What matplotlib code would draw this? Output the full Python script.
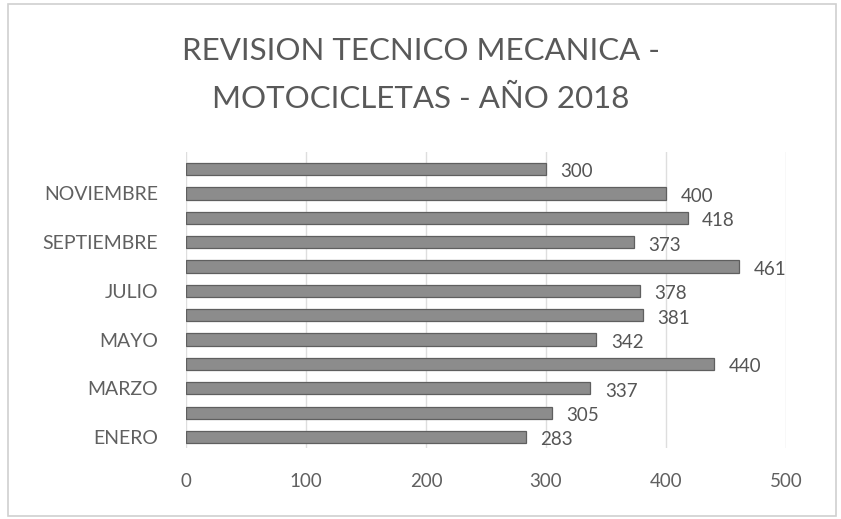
import matplotlib
matplotlib.use("Agg")
import matplotlib.pyplot as plt
from matplotlib.patches import Rectangle

plt.rcParams['font.family'] = ['Lato', 'DejaVu Sans']

months = ["ENERO", "FEBRERO", "MARZO", "ABRIL", "MAYO", "JUNIO",
          "JULIO", "AGOSTO", "SEPTIEMBRE", "OCTUBRE", "NOVIEMBRE", "DICIEMBRE"]
values = [283, 305, 337, 440, 342, 381, 378, 461, 373, 418, 400, 300]
x_ticks = [0, 100, 200, 300, 400, 500]
title_lines = ["REVISION TECNICO MECANICA -", "MOTOCICLETAS - AÑO 2018"]

W, H = 841, 519
fig = plt.figure(figsize=(W / 100, H / 100), dpi=100)
fig.patch.set_facecolor("white")

# light chart-area border
fig.patches.append(Rectangle((8 / W, 1 - 516 / H), (836 - 8) / W, (516 - 4) / H,
                             transform=fig.transFigure, fill=False,
                             edgecolor="#d0d0d0", linewidth=1.2))

left, right, top, bottom = 186, 786, 152, 448
ax = fig.add_axes([left / W, 1 - bottom / H, (right - left) / W, (bottom - top) / H])
pos = list(range(len(months)))
ax.barh(pos, values, height=0.5, color="#8c8c8c", edgecolor="#5f5f5f",
        linewidth=0.9, zorder=3)
for p, v in zip(pos, values):
    ax.text(v + 12, p - 0.12, f"{v}", va="center", ha="left",
            fontsize=13.5, color="#555555")

ax.set_xlim(0, 500)
ax.set_ylim(-0.45, 11.7)
ax.set_xticks(x_ticks)
ax.set_xticklabels([str(t) for t in x_ticks], fontsize=13.5, color="#606060")
ax.set_yticks(pos[::2])
ax.set_yticklabels(months[::2], fontsize=14, color="#606060")
ax.tick_params(axis="x", length=0, pad=18)
ax.tick_params(axis="y", length=0, pad=20)
ax.grid(axis="x", color="#dedede", linewidth=1.0, zorder=0)
for s in ax.spines.values():
    s.set_visible(False)

fig.text(0.5, 1 - 51 / H, title_lines[0], ha="center", va="center",
         fontsize=22.5, color="#595959")
fig.text(0.5, 1 - 99 / H, title_lines[1], ha="center", va="center",
         fontsize=22.5, color="#595959")

fig.savefig("out.png", dpi=100)
